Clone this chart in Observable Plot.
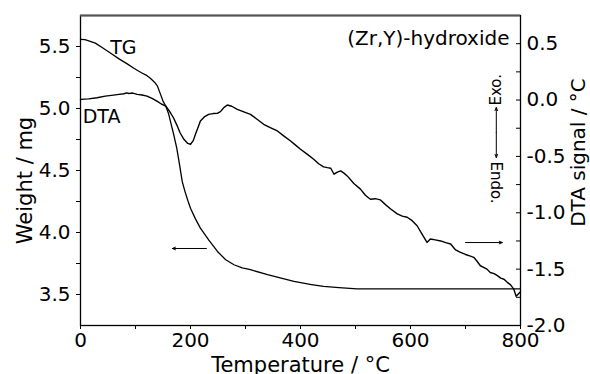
<!DOCTYPE html>
<html><head><meta charset="utf-8">
<script src="https://cdn.jsdelivr.net/npm/d3@7"></script>
<script src="https://cdn.jsdelivr.net/npm/@observablehq/plot@0.6"></script>
<style>body{margin:0;background:#fff} svg{font-family:"DejaVu Sans"}</style>
</head><body><div id="chart"></div>
<script>
// TG curve (weight, mg)
const tgTemp   = [0,8,15,27,40,55,70,85,97,110,121,127,135,140,145,150,155,160,165,170,175,180,185,190,195,200,209,218,233,249,264,279,294,309,340,388,420,442,470,503,550,600,700,800];
const tgWeight = [5.557,5.556,5.545,5.527,5.49,5.445,5.40,5.36,5.325,5.29,5.265,5.244,5.21,5.18,5.12,5.06,5.02,4.96,4.87,4.78,4.68,4.55,4.41,4.33,4.26,4.196,4.11,4.035,3.94,3.847,3.78,3.74,3.715,3.70,3.66,3.605,3.58,3.565,3.555,3.546,3.545,3.545,3.545,3.545];
// DTA curve (signal, °C)
const dtaTemp   = [0,15,30,45,60,70,79,84,88,95,100,103,112,121,130,139,147,155,162,169,175,181,188,195,200,205,209,214,218,225,233,241,249,255,261,267,275,285,297,309,321,333,345,358,370,382,391,400,412,424,433,442,449,455,461,467,473,479,485,497,509,518,527,536,545,555,564,576,585,594,603,612,621,630,636,645,655,664,673,682,691,700,709,715,721,727,733,739,745,752,758,764,770,776,782,788,792,796,800];
const dtaSignal = [0.006,0.01,0.02,0.035,0.044,0.05,0.056,0.064,0.058,0.062,0.055,0.05,0.045,0.035,0.015,-0.009,-0.035,-0.053,-0.1,-0.157,-0.22,-0.29,-0.348,-0.385,-0.392,-0.36,-0.304,-0.24,-0.186,-0.15,-0.127,-0.12,-0.118,-0.1,-0.065,-0.044,-0.055,-0.083,-0.105,-0.127,-0.17,-0.215,-0.245,-0.274,-0.32,-0.363,-0.4,-0.436,-0.48,-0.525,-0.565,-0.593,-0.6,-0.605,-0.658,-0.64,-0.628,-0.648,-0.673,-0.74,-0.79,-0.845,-0.88,-0.875,-0.885,-0.93,-0.967,-1.01,-1.03,-1.04,-1.07,-1.115,-1.19,-1.263,-1.233,-1.24,-1.25,-1.265,-1.277,-1.33,-1.351,-1.37,-1.385,-1.395,-1.43,-1.47,-1.484,-1.5,-1.53,-1.54,-1.558,-1.58,-1.59,-1.617,-1.64,-1.68,-1.74,-1.72,-1.70];

// axes
const xDomain = [0, 800];
const xTicks = [0, 200, 400, 600, 800];
const xMinor = [100, 300, 500, 700];
const weightDomain = [3.25, 5.75];
const weightTicks = [3.5, 4.0, 4.5, 5.0, 5.5];
const weightMinor = [3.75, 4.25, 4.75, 5.25];
const dtaDomain = [-2.0, 0.75];
const dtaTicks = [-2.0, -1.5, -1.0, -0.5, 0.0, 0.5];
const dtaMinor = [-1.75, -1.25, -0.75, -0.25, 0.25];

// annotations (data units: temperature, weight)
const curveLabels = ["TG", "DTA"];
const curveLabelT = [54, 4];
const curveLabelW = [5.49, 4.935];
const sampleLabel = ["(Zr,Y)-hydroxide"];
const sampleT = [780];
const sampleW = [5.565];

const k = (weightDomain[1] - weightDomain[0]) / (dtaDomain[1] - dtaDomain[0]);
const toW = d => weightDomain[0] + (d - dtaDomain[0]) * k;
const toD = w => dtaDomain[0] + (w - weightDomain[0]) / k;

const tg = tgTemp.map((t, i) => ({t, w: tgWeight[i]}));
const dta = dtaTemp.map((t, i) => ({t, w: toW(dtaSignal[i])}));

const fmt1 = v => (Math.round(v * 10) / 10).toFixed(1);

const chart = Plot.plot({
  width: 590, height: 374,
  marginTop: 15, marginLeft: 80, marginRight: 70, marginBottom: 49,
  style: {fontFamily: "DejaVu Sans", fontSize: "20px", color: "black", background: "white"},
  x: {domain: xDomain},
  y: {domain: weightDomain},
  marks: [
    Plot.axisX({ticks: xTicks, tickSize: 4, tickPadding: 3, fontSize: 20, label: null, tickFormat: d => String(d)}),
    Plot.axisX({ticks: xMinor, tickSize: 4, tickFormat: () => "", label: null}),
    Plot.axisY({ticks: weightTicks, tickSize: 4, tickPadding: 6, fontSize: 20, label: null, tickFormat: fmt1}),
    Plot.axisY({ticks: weightMinor, tickSize: 4, tickFormat: () => "", label: null}),
    Plot.axisY({anchor: "right", ticks: dtaTicks.map(toW), tickSize: -5, tickPadding: 11, fontSize: 20, label: null, tickFormat: w => fmt1(toD(w))}),
    Plot.axisY({anchor: "right", ticks: dtaMinor.map(toW), tickSize: -5, tickFormat: () => "", label: null}),
    Plot.frame({stroke: "black", strokeWidth: 1.3}),
    Plot.ruleY([weightDomain[1]], {stroke: "#555", strokeWidth: 2}),
    Plot.line(tg, {x: "t", y: "w", stroke: "black", strokeWidth: 1.3}),
    Plot.line(dta, {x: "t", y: "w", stroke: "black", strokeWidth: 1.4}),
    Plot.text(curveLabels, {x: (d, i) => curveLabelT[i], y: (d, i) => curveLabelW[i], text: d => d, textAnchor: "start", fontSize: 19}),
    Plot.text(sampleLabel, {x: (d, i) => sampleT[i], y: (d, i) => sampleW[i], text: d => d, textAnchor: "end", fontSize: 20}),
    // Exo / Endo indicator
    Plot.text(["Exo."], {x: [756], y: [5.024], text: d => d, rotate: -90, textAnchor: "start", fontSize: 15}),
    Plot.text(["Endo."], {x: [756], y: [4.573], text: d => d, rotate: 90, textAnchor: "start", fontSize: 15}),
    Plot.arrow([0, 1], {x1: [756, 756], y1: [4.806, 4.806], x2: [756, 756], y2: [5.008, 4.605], stroke: "black", strokeWidth: 1, headLength: 5, headAngle: 45}),
    // axis pointers
    Plot.arrow([0], {x1: [229], y1: [3.871], x2: [167], y2: [3.871], stroke: "black", strokeWidth: 1, headLength: 5, headAngle: 45}),
    Plot.arrow([0], {x1: [700], y1: [3.919], x2: [767], y2: [3.919], stroke: "black", strokeWidth: 1, headLength: 5, headAngle: 45}),
    // axis titles
    Plot.text(["Temperature / °C"], {frameAnchor: "bottom", dy: 40, text: d => d, textAnchor: "middle", lineAnchor: "middle", fontSize: 21}),
    Plot.text(["Weight / mg"], {frameAnchor: "left", dx: -55, dy: 10, rotate: -90, text: d => d, textAnchor: "middle", lineAnchor: "middle", fontSize: 21}),
    Plot.text(["DTA signal / °C"], {frameAnchor: "right", dx: 58, dy: -18, rotate: -90, text: d => d, textAnchor: "middle", lineAnchor: "middle", fontSize: 20})
  ]
});
document.getElementById("chart").appendChild(chart);
</script>
</body></html>
